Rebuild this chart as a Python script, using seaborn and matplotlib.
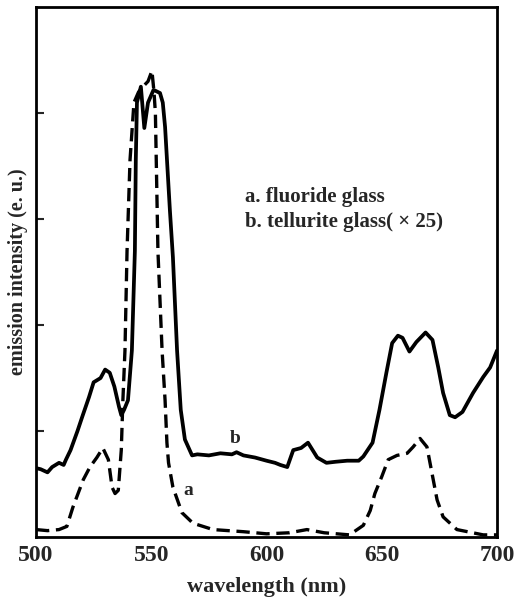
import pandas as pd
import matplotlib
matplotlib.use('Agg')
import matplotlib.pyplot as plt
import seaborn as sns

# curve a: fluoride glass (dashed)
wl_a = [500, 505, 510, 513.4, 516, 520.5, 523.4, 526.4, 529, 531.4, 533, 534.3,
        535.7, 537.0, 537.7, 538.6, 539.5, 540.8, 542.5, 544.5, 546.4, 548.6,
        550.3, 551.2, 551.8, 552.9, 554.7, 556.0, 556.8, 557.5, 559.4, 563.3,
        568.1, 576.8, 590, 600, 610, 617.5, 625, 636, 642, 645, 647, 650, 652.8,
        656.6, 661, 663.6, 666.6, 669.6, 671.8, 674, 676.6, 682.6, 694, 700]
int_a = [0.07, 0.06, 0.07, 0.10, 0.28, 0.54, 0.66, 0.75, 0.84, 0.73, 0.47, 0.41,
         0.44, 0.82, 1.29, 1.76, 2.70, 3.56, 4.10, 4.20, 4.25, 4.30,
         4.40, 4.20, 4.00, 2.70, 1.76, 1.29, 0.89, 0.70, 0.47, 0.23,
         0.13, 0.07, 0.05, 0.03, 0.04, 0.07, 0.04, 0.02, 0.11, 0.25, 0.41, 0.57, 0.73,
         0.77, 0.79, 0.85, 0.93, 0.85, 0.60, 0.35, 0.19, 0.07, 0.02, 0.02]

# curve b: tellurite glass x25 (solid)
wl_b = [500, 502, 505, 507, 510, 512, 513, 515, 518, 520, 523, 525, 528, 530,
        532, 534, 536, 537, 538.2, 539.9, 541.6, 542.9, 543.3, 543.8, 545.5,
        547.0, 548.6, 551.0, 553.8, 555.0, 556.0, 558.1, 559.4, 561.2, 562.8,
        564.6, 567.7, 570, 575, 580, 585, 587, 590, 595, 600, 603.7, 606, 609,
        611.6, 615, 618, 622, 626, 630, 635, 640, 642, 646, 649, 652, 654.5, 657,
        659, 662, 665, 669, 672, 674.5, 676.6, 679.5, 681.8, 685, 689.6, 694,
        697, 700]
int_b = [0.65, 0.64, 0.61, 0.66, 0.70, 0.68, 0.73, 0.82, 1.00, 1.13, 1.32, 1.46,
         1.50, 1.58, 1.55, 1.42, 1.23, 1.15, 1.20, 1.29, 1.76, 2.70, 3.56, 4.10,
         4.25, 3.86, 4.10, 4.22, 4.19, 4.10, 3.87, 3.08, 2.64, 1.76, 1.20,
         0.92, 0.77, 0.78, 0.77, 0.79, 0.78, 0.80, 0.77, 0.75, 0.72, 0.70, 0.68,
         0.66, 0.82, 0.84, 0.89, 0.75, 0.70, 0.71, 0.72, 0.72, 0.76, 0.89, 1.20,
         1.55, 1.83, 1.90, 1.88, 1.75, 1.84, 1.93, 1.86, 1.60, 1.36, 1.15, 1.13,
         1.18, 1.36, 1.51, 1.60, 1.76]

x_ticks = [500, 550, 600, 650, 700]
legend_lines = ['a. fluoride glass', 'b. tellurite glass( \u00d7 25)']

df_a = pd.DataFrame({'wl': wl_a, 'val': int_a})
df_b = pd.DataFrame({'wl': wl_b, 'val': int_b})

sns.set_style('white')
plt.rcParams['font.family'] = ['Liberation Serif', 'DejaVu Serif']
plt.rcParams['font.weight'] = 'bold'

fig = plt.figure(figsize=(5.14, 6.01), dpi=100)
ax = fig.add_axes([0.070, 0.1065, 0.897, 0.8815])

sns.lineplot(data=df_b, x='wl', y='val', ax=ax, color='black', linewidth=2.7)
sns.lineplot(data=df_a, x='wl', y='val', ax=ax, color='black', linewidth=2.4)
ax.lines[-1].set_linestyle((0, (4, 2)))

ax.set_xlim(500, 700)
ax.set_ylim(0, 5.0)

ax.set_xticks(x_ticks)
ax.set_xticklabels([str(t) for t in x_ticks], fontsize=17, fontweight='bold')
ax.tick_params(axis='x', which='major', length=0, pad=6)
ax.set_xticks([550, 650], minor=True)
ax.tick_params(axis='x', which='minor', direction='in', length=6, width=1.5)
ax.set_yticks([1, 2, 3, 4])
ax.set_yticklabels([])
ax.tick_params(axis='y', direction='in', length=6, width=1.5, left=True)

for s in ax.spines.values():
    s.set_linewidth(2)
    s.set_color('black')

ax.set_xlabel('wavelength (nm)', fontsize=16, fontweight='bold', labelpad=8)
ax.set_ylabel('emission intensity (e. u.)', fontsize=14.5, fontweight='bold', labelpad=2)

ax.text(590.7, 3.21, legend_lines[0], fontsize=15, fontweight='bold', va='center')
ax.text(590.7, 2.97, legend_lines[1], fontsize=15, fontweight='bold', va='center')
ax.text(586.3, 0.93, 'b', fontsize=14, fontweight='bold', va='center', ha='center')
ax.text(566, 0.44, 'a', fontsize=14, fontweight='bold', va='center', ha='center')

fig.savefig('out.png', dpi=100)
